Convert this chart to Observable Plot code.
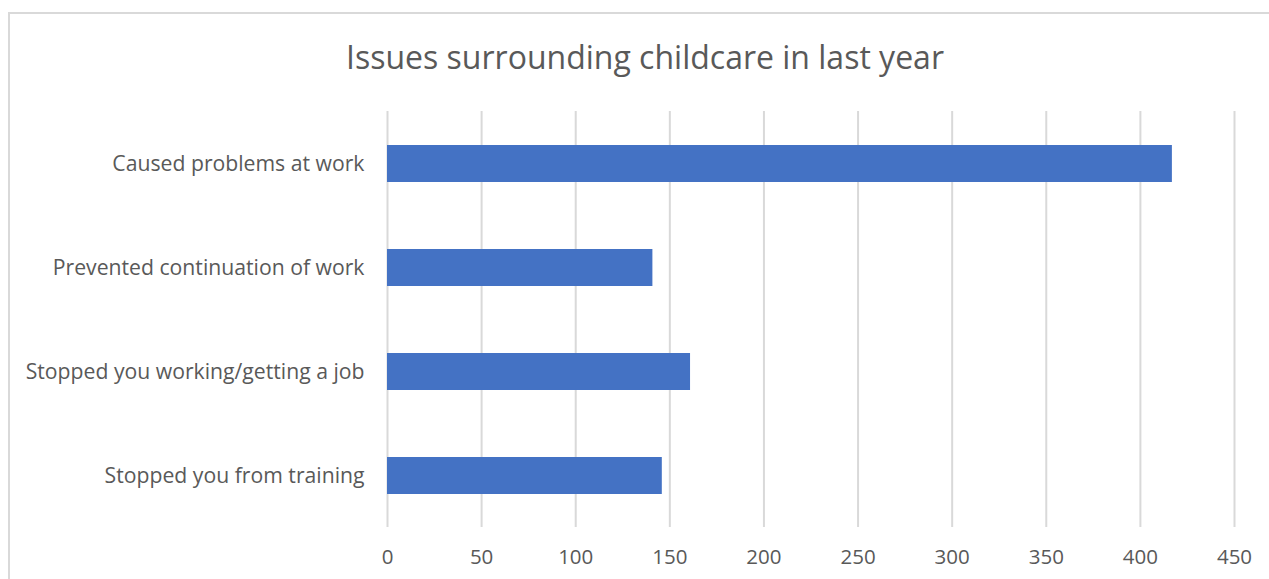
<!DOCTYPE html>
<html>
<head>
<meta charset="utf-8">
<script src="https://cdn.jsdelivr.net/npm/d3@7"></script>
<script src="https://cdn.jsdelivr.net/npm/@observablehq/plot@0.6"></script>
<style>
  html, body { margin: 0; padding: 0; background: #fff; overflow: hidden; }
  #wrap { position: relative; width: 1269px; height: 579px; overflow: hidden; font-family: "Open Sans", sans-serif; }
  #frame { position: absolute; left: 8px; top: 12px; width: 1290px; height: 620px; border: 2px solid #d9d9d9; box-sizing: border-box; }
  #title { position: absolute; left: 0; top: 37px; width: 1290px; text-align: center; font-size: 32px; line-height: 40px; color: #595959; }
  #chart { position: absolute; left: 0; top: 100px; }
</style>
</head>
<body>
<div id="wrap">
  <div id="frame"></div>
  <div id="title">Issues surrounding childcare in last year</div>
  <div id="chart"></div>
</div>
<script>
const categories = [
  "Caused problems at work",
  "Prevented continuation of work",
  "Stopped you working/getting a job",
  "Stopped you from training"
];
const counts = [417, 141, 161, 146];
const xTicks = [0, 50, 100, 150, 200, 250, 300, 350, 400, 450];

const data = categories.map((c, i) => ({category: c, value: counts[i]}));

const chart = Plot.plot({
  width: 1269,
  height: 479,
  marginLeft: 387,
  marginRight: 35,
  marginTop: 11,
  marginBottom: 52,
  style: {background: "transparent", fontFamily: "Open Sans, sans-serif", color: "#595959"},
  x: {domain: [0, 450], ticks: xTicks},
  y: {domain: categories, paddingInner: 0.645, paddingOuter: 0.3225},
  marks: [
    Plot.ruleX(xTicks, {stroke: "#d9d9d9", strokeWidth: 2, strokeOpacity: 1}),
    Plot.barX(data, {x: "value", y: "category", fill: "#4472C4"}),
    Plot.axisX(xTicks, {tickSize: 0, tickPadding: 22, fontSize: 20.5, fill: "#595959", label: null}),
    Plot.axisY({tickSize: 0, tickPadding: 23, fontSize: 21.2, fill: "#595959", label: null})
  ]
});
document.getElementById("chart").appendChild(chart);
</script>
</body>
</html>
